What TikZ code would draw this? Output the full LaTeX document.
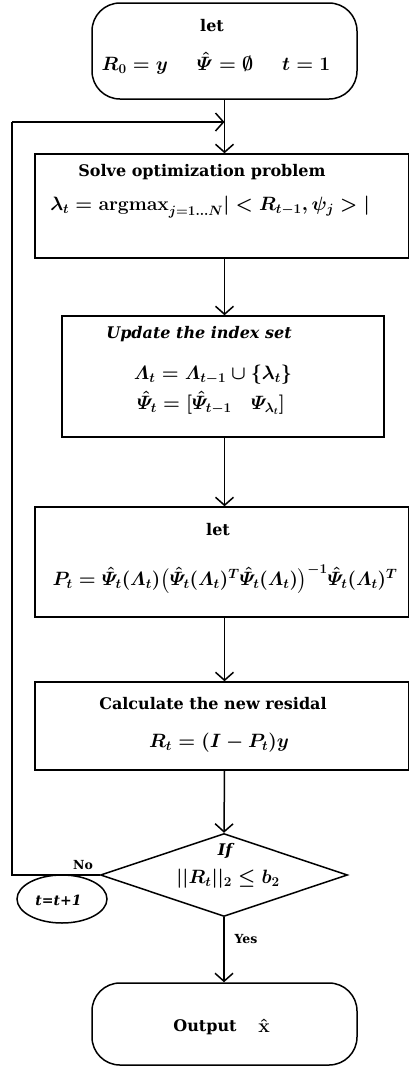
\RequirePackage{fix-cm}
\documentclass[tikz,border=0pt]{standalone}
\usepackage{amsmath}
\usepackage[no-math]{fontspec}
\setmainfont{DejaVu Serif}
\usetikzlibrary{shapes.geometric,arrows.meta}
\begin{document}
\begin{tikzpicture}[x=1pt,y=-1pt,
  shapebox/.style={draw, line width=1.5pt, inner sep=0pt},
  rbox/.style={shapebox, rounded corners=28pt},
  lbl/.style={inner sep=0pt, font=\fontsize{16}{19}\selectfont\bfseries},
  ilbl/.style={inner sep=0pt, font=\fontsize{16}{19}\selectfont\bfseries\itshape},
  eq/.style={inner sep=0pt, font=\fontsize{19.3}{22}\selectfont\boldmath},
  small/.style={inner sep=0pt, font=\fontsize{12.5}{15}\selectfont\bfseries},
  flow/.style={line width=1.5pt, -{Straight Barb[length=8pt,width=18pt,line width=1.5pt]}},
  wire/.style={line width=1.5pt}]
\useasboundingbox (0,0) rectangle (409,1066);
% boxes
\node[rbox, minimum width=265pt, minimum height=96pt] (start) at (224.5,51) {};
\node[shapebox, minimum width=374pt, minimum height=104pt] (solve) at (222,206) {};
\node[shapebox, minimum width=322pt, minimum height=121pt] (update) at (223,376.5) {};
\node[shapebox, minimum width=374pt, minimum height=110pt] (letb) at (222,562) {};
\node[shapebox, minimum width=374pt, minimum height=88pt] (calc) at (222,726) {};
\node[shapebox, diamond, minimum width=247pt, minimum height=83pt] (dec) at (224,875) {};
\node[rbox, minimum width=265pt, minimum height=82pt] (out) at (224.5,1024) {};
\node[shapebox, ellipse, minimum width=90pt, minimum height=48pt] (inc) at (62,899) {};
% texts
\node[lbl] (t1) at (212,26) {let};
\node[eq] (t2) at (216,63) {$R_0 = y \hspace{1.5em} \hat{\varPsi} = \emptyset \hspace{1.5em} t = 1$};
\node[lbl] (t3) at (202,172) {Solve optimization problem};
\node[eq] (t4) at (210,207) {$\lambda_t = \mathbf{argmax}_{j=1\ldots N}|<R_{t-1},\psi_j>|$};
\node[ilbl] (t5) at (199,334) {Update the index set};
\node[eq] (t6) at (213,375) {$\varLambda_t = \varLambda_{t-1}\cup\{\lambda_t\}$};
\node[eq] (t7) at (211,403) {$\hat{\varPsi}_t = [\hat{\varPsi}_{t-1}\quad \varPsi_{\lambda_t}]$};
\node[lbl] (t8) at (218,530) {let};
\node[eq] (t9) at (225,579) {$P_t = \hat{\varPsi}_t(\varLambda_t)\bigl(\hat{\varPsi}_t(\varLambda_t)^T\hat{\varPsi}_t(\varLambda_t)\bigr)^{-1}\hat{\varPsi}_t(\varLambda_t)^T$};
\node[lbl] (t10) at (213,704) {Calculate the new residal};
\node[eq] (t11) at (219,743) {$R_t = (I - P_t)y$};
\node[ilbl] (t12) at (225,851) {If};
\node[eq] (t13) at (228,879) {$||R_t||_2 \le b_2$};
\node[lbl] (t14) at (205,1027) {Output};
\node[eq] (t16) at (264,1026) {$\hat{\mathbf{x}}$};
\node[small, font=\fontsize{14}{16}\selectfont\bfseries\itshape] (t15) at (58.5,900) {t=t+1};
\node[small] (no) at (83,865) {No};
\node[small] (yes) at (246,939) {Yes};
% connectors
\coordinate (lp) at (12,122);
\draw[flow] (start.south) -- (start.south |- solve.north);
\draw[flow] (solve.south -| start.south) -- (update.north -| start.south);
\draw[flow] (update.south -| start.south) -- (letb.north -| start.south);
\draw[flow] (letb.south -| start.south) -- (calc.north -| start.south);
\draw[flow] (calc.south -| start.south) -- (dec.north);
\draw[flow] (dec.south) -- (out.north -| dec.south);
\draw[wire] (dec.west) -- (dec.west -| lp) -- (lp);
\draw[flow] (lp) -- (lp -| start.south);
\end{tikzpicture}
\end{document}
